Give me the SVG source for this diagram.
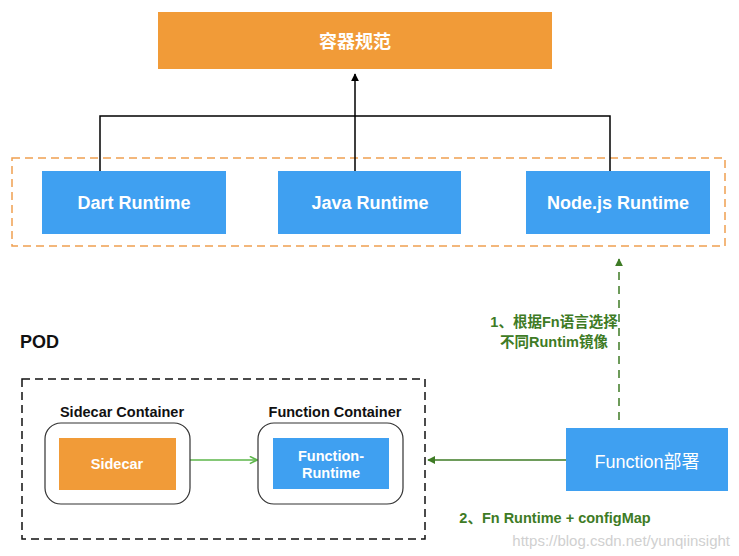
<svg xmlns="http://www.w3.org/2000/svg" width="739" height="556" viewBox="0 0 739 556">
<style>
.orange{fill:#F19B38}
.blue{fill:#3FA0F1}
.wt{fill:#fff;font-family:"Liberation Sans","Noto Sans CJK SC",sans-serif;font-weight:bold;text-anchor:middle}
.bk{fill:#111;font-family:"Liberation Sans","Noto Sans CJK SC",sans-serif;font-weight:bold;text-anchor:middle}
.gr{fill:#3E7B25;font-family:"Liberation Sans","Noto Sans CJK SC",sans-serif;font-weight:bold;font-size:14.5px;text-anchor:middle}
.cont{fill:#fff;stroke:#333;stroke-width:1.2}
</style>
<defs>
<marker id="ab" viewBox="0 0 10 10" refX="9" refY="5" markerWidth="8" markerHeight="8" orient="auto" markerUnits="userSpaceOnUse"><path d="M0,0L10,5L0,10z" fill="#000"/></marker>
<marker id="ag" viewBox="0 0 10 10" refX="9" refY="5" markerWidth="8" markerHeight="8" orient="auto" markerUnits="userSpaceOnUse"><path d="M0,0L10,5L0,10z" fill="#3E7B25"/></marker>
<marker id="al" viewBox="0 0 10 10" refX="9" refY="5" markerWidth="9" markerHeight="9" orient="auto" markerUnits="userSpaceOnUse"><path d="M1,1L9,5L1,9" fill="none" stroke="#5DB64A" stroke-width="1.8"/></marker>
</defs>
<rect width="739" height="556" fill="#fff"/>

<rect x="12" y="158" width="713" height="88" fill="none" stroke="#F0A050" stroke-width="1.5" stroke-dasharray="8,5"/>
<rect x="22" y="379" width="403" height="160" fill="none" stroke="#111" stroke-width="1.5" stroke-dasharray="8,5"/>

<g id="connectors">
<path d="M100,171V116H610V171M355,171V116" fill="none" stroke="#000" stroke-width="1.5"/>
<line x1="355" y1="116" x2="355" y2="74" stroke="#000" stroke-width="1.5" marker-end="url(#ab)"/>
<line x1="619" y1="420" x2="619" y2="259" stroke="#3E7B25" stroke-width="1.5" stroke-dasharray="8,6" marker-end="url(#ag)"/>
<line x1="566" y1="460" x2="428" y2="460" stroke="#3E7B25" stroke-width="1.5" marker-end="url(#ag)"/>
<line x1="190" y1="460" x2="257" y2="460" stroke="#5DB64A" stroke-width="1.5" marker-end="url(#al)"/>
</g>

<g id="spec"><rect class="orange" x="158" y="12" width="394" height="57"/><text class="wt" x="355" y="48" font-size="18">容器规范</text></g>
<g id="dart"><rect class="blue" x="42" y="171" width="184" height="63"/><text class="wt" x="134" y="209" font-size="18">Dart Runtime</text></g>
<g id="java"><rect class="blue" x="278" y="171" width="183" height="63"/><text class="wt" x="370" y="209" font-size="18">Java Runtime</text></g>
<g id="node"><rect class="blue" x="526" y="171" width="184" height="63"/><text class="wt" x="618" y="209" font-size="18">Node.js Runtime</text></g>

<g id="deploy"><rect class="blue" x="566" y="428" width="162" height="63"/><text x="647" y="468" font-size="18" fill="#fff" text-anchor="middle" font-family="Liberation Sans,Noto Sans CJK SC,sans-serif">Function部署</text></g>

<g id="label1"><text class="gr" x="554" y="327">1、根据Fn语言选择</text><text class="gr" x="554" y="347">不同Runtim镜像</text></g>
<g id="label2"><text class="gr" x="555" y="523">2、Fn Runtime + configMap</text></g>

<g id="pod"><text class="bk" x="20" y="348" font-size="18" style="text-anchor:start">POD</text></g>

<g id="sidecar-container">
<text class="bk" x="122" y="417" font-size="14.5">Sidecar Container</text>
<rect class="cont" x="45" y="423" width="145" height="81" rx="16"/>
<rect class="orange" x="59" y="438" width="117" height="52"/>
<text class="wt" x="117" y="469" font-size="14.5">Sidecar</text>
</g>
<g id="function-container">
<text class="bk" x="335" y="417" font-size="14.5">Function Container</text>
<rect class="cont" x="258" y="423" width="145" height="81" rx="16"/>
<rect class="blue" x="273" y="438" width="116" height="51"/>
<text class="wt" x="331" y="461" font-size="14.5">Function-</text>
<text class="wt" x="331" y="478" font-size="14.5">Runtime</text>
</g>

<text x="730" y="546" font-size="15" fill="#d0d0d0" text-anchor="end" font-family="Liberation Sans,sans-serif">https://blog.csdn.net/yunqiinsight</text>
</svg>
